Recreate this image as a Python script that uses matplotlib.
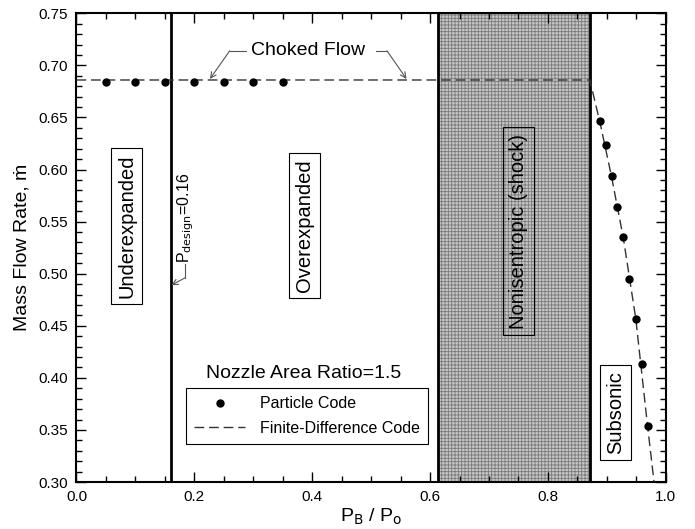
import matplotlib
matplotlib.use("Agg")
import matplotlib.pyplot as plt
from matplotlib.ticker import MultipleLocator, FormatStrFormatter

plt.rcParams['font.family'] = ['Liberation Sans', 'DejaVu Sans']
plt.rcParams['hatch.linewidth'] = 0.6

# Particle code results
particle_x = [0.05, 0.10, 0.15, 0.20, 0.25, 0.30, 0.35,
              0.888, 0.898, 0.908, 0.918, 0.928, 0.938, 0.949, 0.959, 0.969]
particle_y = [0.684, 0.684, 0.684, 0.684, 0.684, 0.684, 0.684,
              0.647, 0.624, 0.594, 0.564, 0.535, 0.495, 0.457, 0.413, 0.354]

# Finite-difference code curve
fd_x = [0.0, 0.871, 0.888, 0.908, 0.928, 0.949, 0.969, 0.980]
fd_y = [0.686, 0.686, 0.646, 0.593, 0.534, 0.457, 0.354, 0.300]

p_design = 0.16
shock_lo, shock_hi = 0.614, 0.871

fig = plt.figure(figsize=(6.95, 5.29), dpi=100)
ax = fig.add_axes([0.110, 0.0888, 0.848, 0.886])

ax.set_xlim(0.0, 1.0)
ax.set_ylim(0.30, 0.75)

# shaded nonisentropic region
ax.axvspan(shock_lo, shock_hi, facecolor='#c6c6c6', edgecolor='#7a7a7a',
           hatch='+++++', linewidth=0, zorder=1)
ax.axvline(shock_lo, color='black', lw=2.0, zorder=3)
ax.axvline(shock_hi, color='black', lw=2.0, zorder=3)
ax.axvline(p_design, color='black', lw=2.0, zorder=3)

ax.plot(fd_x, fd_y, color='#333333', lw=1.0, dashes=(7, 3.5), zorder=4,
        label='Finite-Difference Code')
ax.plot(particle_x, particle_y, 'o', color='black', ms=5, zorder=5,
        label='Particle Code')

# region labels
boxkw = dict(boxstyle='square,pad=0.3', facecolor='white', edgecolor='black', lw=0.8)
ax.text(0.0857, 0.546, 'Underexpanded', rotation=90, fontsize=14.5,
        ha='center', va='center', bbox=boxkw, zorder=6)
ax.text(0.387, 0.546, 'Overexpanded', rotation=90, fontsize=14.5,
        ha='center', va='center', bbox=boxkw, zorder=6)
ax.text(0.750, 0.541, 'Nonisentropic (shock)', rotation=90, fontsize=14.5,
        ha='center', va='center',
        bbox=dict(boxstyle='square,pad=0.3', facecolor='none', edgecolor='black', lw=0.8),
        zorder=6)
ax.text(0.915, 0.367, 'Subsonic', rotation=90, fontsize=14.5,
        ha='center', va='center', bbox=boxkw, zorder=6)

# P_design annotation
ax.text(0.186, 0.510, r'P$_{\mathrm{design}}$=0.16', rotation=90, fontsize=11.5,
        ha='center', va='bottom', zorder=6)
ax.plot([0.184, 0.184], [0.509, 0.496], color='#555555', lw=0.8, zorder=6)
ax.annotate('', xy=(0.161, 0.489), xytext=(0.184, 0.496),
            arrowprops=dict(arrowstyle='->', color='#555555', lw=0.8,
                            shrinkA=0, shrinkB=0), zorder=6)

# Choked flow annotation
ax.text(0.393, 0.714, 'Choked Flow', fontsize=14, ha='center', va='center', zorder=6)
ax.plot([0.287, 0.260], [0.714, 0.714], color='#555555', lw=0.8, zorder=6)
ax.annotate('', xy=(0.2265, 0.687), xytext=(0.260, 0.714),
            arrowprops=dict(arrowstyle='->', color='#555555', lw=0.8,
                            shrinkA=0, shrinkB=0), zorder=6)
ax.plot([0.508, 0.527], [0.714, 0.714], color='#555555', lw=0.8, zorder=6)
ax.annotate('', xy=(0.560, 0.687), xytext=(0.527, 0.714),
            arrowprops=dict(arrowstyle='->', color='#555555', lw=0.8,
                            shrinkA=0, shrinkB=0), zorder=6)

# legend
ax.text(0.385, 0.232, 'Nozzle Area Ratio=1.5', fontsize=14, ha='center',
        va='center', transform=ax.transAxes, zorder=6)
h, l = ax.get_legend_handles_labels()
leg = ax.legend(h[::-1], l[::-1], loc='upper left', bbox_to_anchor=(0.186, 0.200),
                fontsize=11.5, frameon=True, fancybox=False, edgecolor='black',
                framealpha=1, handlelength=3.2, handletextpad=0.9,
                borderpad=0.5, labelspacing=0.6, borderaxespad=0)
leg.get_frame().set_linewidth(0.8)
leg.set_zorder(7)

# ticks
ax.xaxis.set_major_locator(MultipleLocator(0.2))
ax.xaxis.set_minor_locator(MultipleLocator(0.05))
ax.yaxis.set_major_locator(MultipleLocator(0.05))
ax.yaxis.set_minor_locator(MultipleLocator(0.01))
ax.xaxis.set_major_formatter(FormatStrFormatter('%.1f'))
ax.yaxis.set_major_formatter(FormatStrFormatter('%.2f'))
ax.tick_params(which='both', direction='in', top=True, right=True, labelsize=11,
               width=1.0)
ax.tick_params(which='major', length=7, pad=6)
ax.tick_params(which='minor', length=4)
for s in ax.spines.values():
    s.set_linewidth(1.5)

ax.set_xlabel(r'P$_{\mathrm{B}}$ / P$_{\mathrm{o}}$', fontsize=14, labelpad=2)
ax.set_ylabel('Mass Flow Rate, ṁ', fontsize=14, labelpad=6)

fig.savefig('out.png', dpi=100)
